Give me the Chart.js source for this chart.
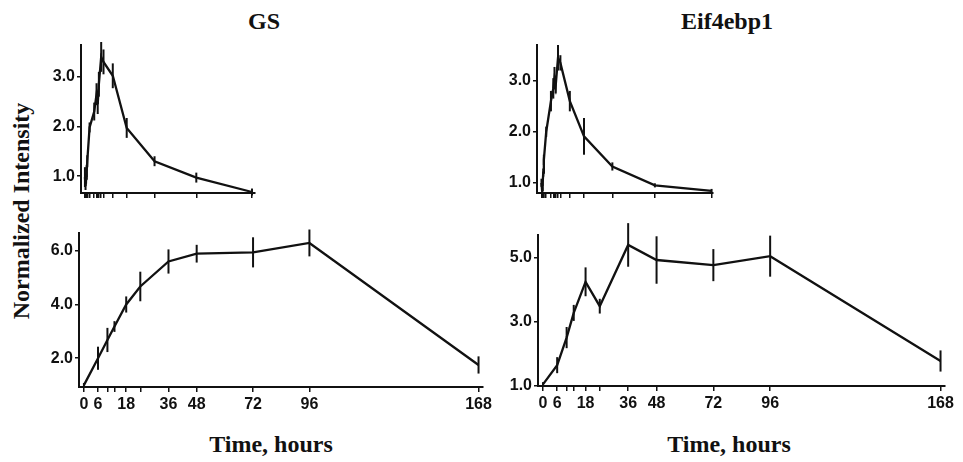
<!DOCTYPE html>
<html>
<head>
<meta charset="utf-8">
<title>GS / Eif4ebp1</title>
<script src="https://cdn.jsdelivr.net/npm/chart.js@4.4.1/dist/chart.umd.min.js"></script>
<style>
    html, body { margin: 0; padding: 0; background: #fff; }
    #page { position: relative; width: 963px; height: 462px; overflow: hidden; }
    canvas { position: absolute; }
    .lbl {
        position: absolute;
        font-family: "Liberation Serif", "Times New Roman", serif;
        font-weight: bold;
        font-size: 24px;
        line-height: 28px;
        color: #111;
        text-align: center;
        white-space: nowrap;
    }
</style>
</head>
<body>
<div id="page">
    <div class="lbl" id="title0" style="left:164px; top:7px; width:200px;"></div>
    <div class="lbl" id="title1" style="left:627px; top:7px; width:200px;"></div>
    <div class="lbl" style="left:21px; top:211px; transform: translate(-50%, -50%) rotate(-90deg);">Normalized Intensity</div>
    <div class="lbl" style="left:171px; top:430px; width:200px;">Time, hours</div>
    <div class="lbl" style="left:629px; top:430px; width:200px;">Time, hours</div>
    <canvas id="gsAcute"></canvas>
    <canvas id="eifAcute"></canvas>
    <canvas id="gsChronic"></canvas>
    <canvas id="eifChronic"></canvas>
</div>
<script>
// gene names used as panel titles
const geneNames = ['GS', 'Eif4ebp1'];

// acute dosing time course (top row)
const acuteHours = [0, 0.25, 0.5, 0.75, 1, 2, 4, 5, 5.5, 6, 7, 8, 12, 18, 30, 48, 72];
const gsAcute = [0.98, 0.8, 0.95, 1.1, 1.3, 1.98, 2.3, 2.65, 2.45, 2.85, 3.4, 3.3, 3.02, 1.97, 1.3, 0.97, 0.68];
const gsAcuteErr = [0.2, 0.08, 0.1, 0.12, 0.12, 0.1, 0.18, 0.22, 0.2, 0.25, 0.3, 0.25, 0.25, 0.2, 0.1, 0.1, 0.07];
const eifAcute = [1.0, 0.85, 1.0, 1.2, 1.45, 2.0, 2.6, 2.85, 3.05, 2.9, 3.45, 3.35, 2.6, 1.91, 1.32, 0.95, 0.84];
const eifAcuteErr = [0.08, 0.05, 0.06, 0.08, 0.1, 0.1, 0.2, 0.2, 0.22, 0.15, 0.25, 0.15, 0.2, 0.36, 0.08, 0.04, 0.04];
const acuteYTicks = [1, 2, 3];

// chronic infusion time course (bottom row)
const chronicHours = [0, 6, 10, 13, 18, 24, 36, 48, 72, 96, 168];
const chronicTickLabels = [0, 6, 18, 36, 48, 72, 96, 168];
const gsChronic = [1.0, 2.0, 2.68, 3.18, 4.0, 4.67, 5.6, 5.89, 5.94, 6.29, 1.75];
const gsChronicErr = [0.08, 0.43, 0.45, 0.2, 0.3, 0.55, 0.45, 0.33, 0.56, 0.5, 0.32];
const eifChronic = [1.05, 1.65, 2.51, 3.28, 4.25, 3.49, 5.4, 4.93, 4.77, 5.05, 1.78];
const eifChronicErr = [0.07, 0.25, 0.33, 0.25, 0.45, 0.23, 0.68, 0.74, 0.5, 0.64, 0.33];
const gsChronicYTicks = [2, 4, 6];
const eifChronicYTicks = [1, 3, 5];

document.addEventListener('DOMContentLoaded', () => {
    document.getElementById('title0').textContent = geneNames[0];
    document.getElementById('title1').textContent = geneNames[1];

    const INK = '#111';
    const Y_W = 50;      // fixed y scale width
    const X_H = 30;      // fixed x scale height
    const PAD = 12;      // room above / right of the plot area
    const tickFont = { family: '"Liberation Sans", Arial, sans-serif', size: 16, weight: 'bold' };

    // vertical error bars, drawn through the chart scales
    const errorBars = {
        id: 'errorBars',
        afterDatasetsDraw(chart) {
            const { ctx, scales: { x, y } } = chart;
            const ds = chart.data.datasets[0];
            ctx.save();
            ctx.strokeStyle = INK;
            ctx.lineWidth = 2;
            ds.data.forEach((pt, i) => {
                const px = x.getPixelForValue(pt.x);
                const e = ds.errors[i];
                ctx.beginPath();
                ctx.moveTo(px, y.getPixelForValue(pt.y + e));
                ctx.lineTo(px, y.getPixelForValue(pt.y - e));
                ctx.stroke();
            });
            ctx.restore();
        }
    };

    const makePanel = (id, box, hours, values, errors, xRange, yRange, yTicks, labelHours) => {
        const canvas = document.getElementById(id);
        const w = box.right - box.left + Y_W + PAD;
        const h = box.bottom - box.top + PAD + X_H;
        canvas.width = w;
        canvas.height = h;
        canvas.style.left = (box.left - Y_W) + 'px';
        canvas.style.top = (box.top - PAD) + 'px';

        new Chart(canvas, {
            type: 'line',
            data: {
                datasets: [{
                    data: hours.map((t, i) => ({ x: t, y: values[i] })),
                    errors: errors,
                    borderColor: INK,
                    borderWidth: 2.3,
                    pointRadius: 0,
                    tension: 0,
                    clip: false
                }]
            },
            options: {
                responsive: false,
                animation: false,
                layout: { padding: { top: PAD, right: PAD, left: 0, bottom: 0 } },
                plugins: { legend: { display: false }, tooltip: { enabled: false } },
                scales: {
                    x: {
                        type: 'linear',
                        min: xRange[0],
                        max: xRange[1],
                        afterBuildTicks: (s) => { s.ticks = hours.map(v => ({ value: v })); },
                        afterFit: (s) => { s.height = X_H; },
                        ticks: {
                            autoSkip: false,
                            maxRotation: 0,
                            padding: 3,
                            color: INK,
                            font: tickFont,
                            callback: (v) => labelHours.includes(v) ? String(v) : ''
                        },
                        grid: { drawOnChartArea: false, drawTicks: true, tickLength: 5, color: INK, lineWidth: 1.5 },
                        border: { display: true, color: INK, width: 2 }
                    },
                    y: {
                        min: yRange[0],
                        max: yRange[1],
                        afterBuildTicks: (s) => { s.ticks = yTicks.map(v => ({ value: v })); },
                        afterFit: (s) => { s.width = Y_W; },
                        ticks: {
                            padding: 2,
                            color: INK,
                            font: tickFont,
                            callback: (v) => v.toFixed(1)
                        },
                        grid: { drawOnChartArea: false, drawTicks: true, tickLength: 4, color: INK, lineWidth: 1.5 },
                        border: { display: true, color: INK, width: 2 }
                    }
                }
            },
            plugins: [errorBars]
        });
    };

    makePanel('gsAcute', { left: 81, top: 45, right: 255, bottom: 193 },
        acuteHours, gsAcute, gsAcuteErr, [-1.7, 73.3], [0.66, 3.64], acuteYTicks, []);
    makePanel('eifAcute', { left: 537, top: 45, right: 713, bottom: 193 },
        acuteHours, eifAcute, eifAcuteErr, [-1.9, 72.6], [0.8, 3.7], acuteYTicks, []);
    makePanel('gsChronic', { left: 79, top: 233, right: 483, bottom: 387 },
        chronicHours, gsChronic, gsChronicErr, [-2.1, 169.7], [0.93, 6.66], gsChronicYTicks, chronicTickLabels);
    makePanel('eifChronic', { left: 538, top: 235, right: 945, bottom: 386 },
        chronicHours, eifChronic, eifChronicErr, [-2.1, 169.7], [1.0, 5.71], eifChronicYTicks, chronicTickLabels);
});
</script>
</body>
</html>
